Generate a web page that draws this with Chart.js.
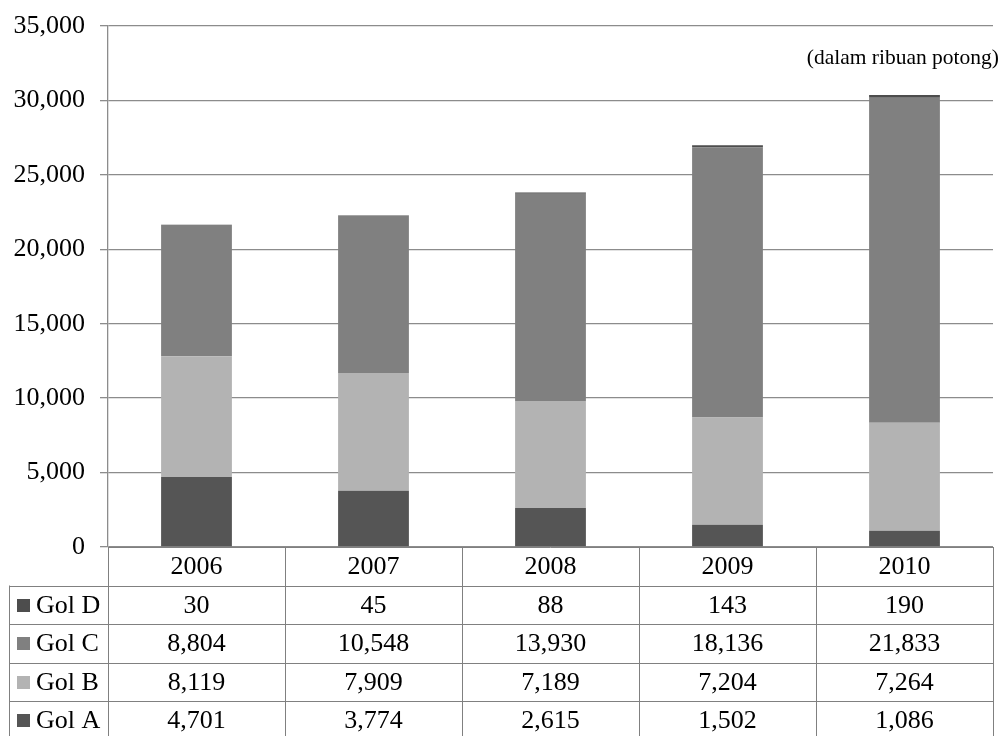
<!DOCTYPE html>
<html>
<head>
<meta charset="utf-8">
<script src="https://cdn.jsdelivr.net/npm/chart.js@4"></script>
<style>
  html, body { margin: 0; padding: 0; background: #fff; }
  #wrap { width: 1006px; height: 736px; }
</style>
</head>
<body>
<div id="wrap"><canvas id="barChart"></canvas></div>
<script>
var years = ["2006", "2007", "2008", "2009", "2010"];
var golA = [4701, 3774, 2615, 1502, 1086];
var golB = [8119, 7909, 7189, 7204, 7264];
var golC = [8804, 10548, 13930, 18136, 21833];
var golD = [30, 45, 88, 143, 190];
var yTicks = [0, 5000, 10000, 15000, 20000, 25000, 30000, 35000];
var unitNote = "(dalam ribuan potong)";

var serif = "'Liberation Serif', 'Times New Roman', serif";
var fmt = function (v) { return v.toLocaleString('en-US'); };

// table rows under the chart, top to bottom
var tableRows = [
  { label: "Gol D", values: golD, color: '#4d4d4d' },
  { label: "Gol C", values: golC, color: '#808080' },
  { label: "Gol B", values: golB, color: '#b3b3b3' },
  { label: "Gol A", values: golA, color: '#555555' }
];

var dataTable = {
  id: 'dataTable',
  afterDraw: function (chart) {
    var ctx = chart.ctx;
    var area = chart.chartArea;
    var x = chart.scales.x;
    var colW = (area.right - area.left) / years.length;
    var rowH = 38.5;
    var top = area.bottom;
    var left = 9;

    ctx.save();
    ctx.strokeStyle = '#808080';
    ctx.lineWidth = 1;
    ctx.font = '26px ' + serif;
    ctx.fillStyle = '#000';
    ctx.textBaseline = 'middle';

    // horizontal lines
    ctx.beginPath();
    ctx.moveTo(area.left, top + 0.5);
    ctx.lineTo(area.right, top + 0.5);
    for (var r = 1; r <= tableRows.length; r++) {
      var yy = Math.round(top + r * rowH) + 0.5;
      ctx.moveTo(left, yy);
      ctx.lineTo(area.right, yy);
    }
    // vertical lines
    ctx.moveTo(left + 0.5, top + rowH);
    ctx.lineTo(left + 0.5, top + 6 * rowH);
    for (var c = 0; c <= years.length; c++) {
      var xx = Math.round(area.left + c * colW) + 0.5;
      ctx.moveTo(xx, top);
      ctx.lineTo(xx, top + 6 * rowH);
    }
    ctx.stroke();

    // year header
    ctx.textAlign = 'center';
    years.forEach(function (yr, i) {
      ctx.fillText(yr, x.getPixelForValue(i), top + rowH / 2 + 1);
    });

    // series rows
    tableRows.forEach(function (row, r) {
      var cy = top + (r + 1.5) * rowH + 1;
      ctx.fillStyle = row.color;
      ctx.fillRect(17, Math.round(cy - 7), 13, 13);
      ctx.fillStyle = '#000';
      ctx.textAlign = 'left';
      ctx.fillText(row.label, 36, cy);
      ctx.textAlign = 'center';
      row.values.forEach(function (v, i) {
        ctx.fillText(fmt(v), x.getPixelForValue(i), cy);
      });
    });

    // unit note
    ctx.textAlign = 'right';
    ctx.font = '21.5px ' + serif;
    ctx.fillText(unitNote, 999, 58);
    ctx.restore();
  }
};

var ctxB = document.getElementById("barChart").getContext('2d');
var myBarChart = new Chart(ctxB, {
  type: 'bar',
  data: {
    labels: years,
    datasets: [
      { label: "Gol A", data: golA, backgroundColor: '#555555' },
      { label: "Gol B", data: golB, backgroundColor: '#b3b3b3' },
      { label: "Gol C", data: golC, backgroundColor: '#808080' },
      { label: "Gol D", data: golD, backgroundColor: '#4d4d4d' }
    ]
  },
  options: {
    responsive: true,
    maintainAspectRatio: false,
    animation: false,
    layout: { padding: { top: 26, right: 13, bottom: 189, left: 0 } },
    datasets: {
      bar: { barPercentage: 0.4, categoryPercentage: 1.0 }
    },
    plugins: {
      legend: { display: false },
      tooltip: { enabled: false }
    },
    scales: {
      x: {
        stacked: true,
        display: false
      },
      y: {
        stacked: true,
        min: 0,
        max: 35000,
        afterFit: function (scale) {
          scale.width = 108;
          // let the layout padding decide the plot top
          scale.paddingTop = 0;
          scale.paddingBottom = 0;
        },
        afterBuildTicks: function (scale) {
          scale.ticks = yTicks.map(function (v) { return { value: v }; });
        },
        ticks: {
          color: '#000',
          font: { family: serif, size: 26 },
          padding: 15,
          callback: function (v) { return fmt(v); }
        },
        grid: { color: '#8c8c8c', lineWidth: 1.3, tickLength: 8 },
        border: { color: '#8c8c8c', width: 1.3 }
      }
    }
  },
  plugins: [dataTable]
});
</script>
</body>
</html>
